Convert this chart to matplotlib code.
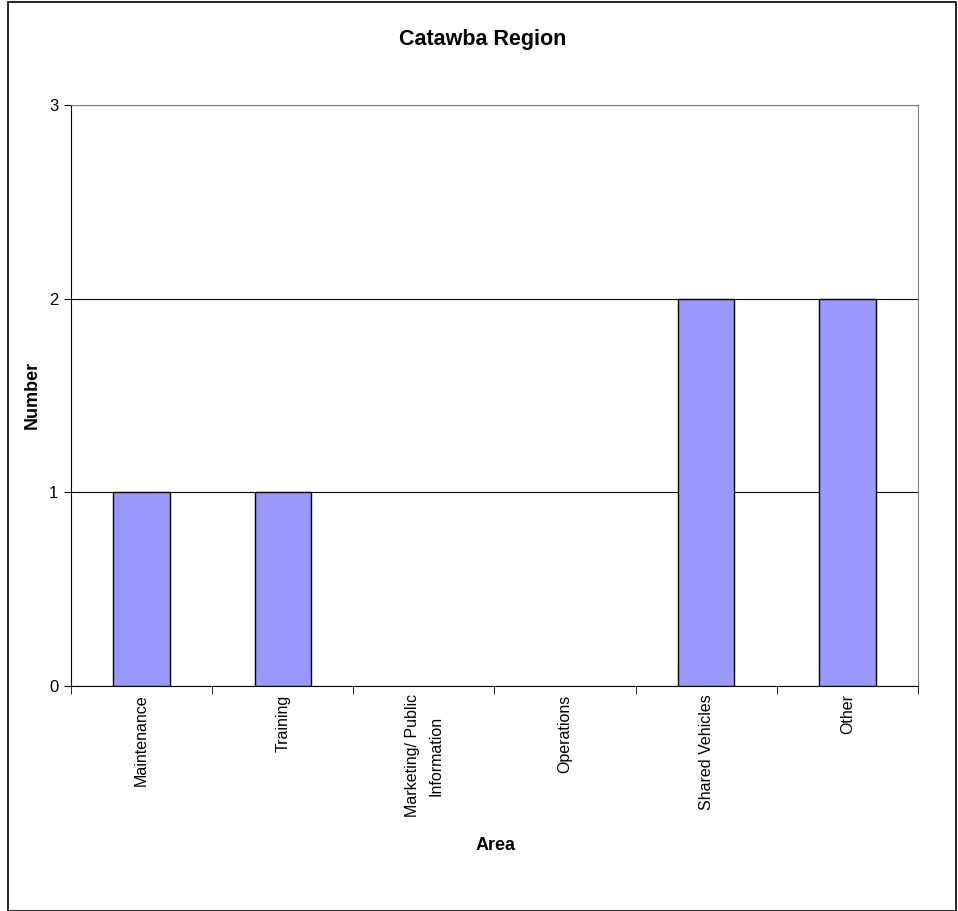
import matplotlib.pyplot as plt
from matplotlib.patches import Rectangle
import numpy as np

# Data
categories = ['Maintenance', 'Training', 'Marketing/ Public\nInformation',
              'Operations', 'Shared Vehicles', 'Other']
values = [1, 1, 0, 0, 2, 2]

plt.rcParams['font.family'] = ['Liberation Sans', 'DejaVu Sans']

W, H = 958, 911
fig = plt.figure(figsize=(W / 100, H / 100), dpi=100)

# outer chart border
fig.patches.append(Rectangle((8 / W, 0), (956 - 8) / W, (910 - 1) / H,
                             transform=fig.transFigure, fill=False,
                             edgecolor='black', linewidth=1.2))

left, right, top, bottom = 71, 918, 105, 686
ax = fig.add_axes([left / W, 1 - bottom / H, (right - left) / W, (bottom - top) / H])

x = np.arange(len(categories))
vals = np.array(values, dtype=float)
shown = vals > 0
ax.bar(x[shown], vals[shown], width=0.4, color='#9999FF', edgecolor='black',
       linewidth=1, zorder=3)

ax.set_xlim(-0.5, len(categories) - 0.5)
ax.set_ylim(0, 3)
ax.set_yticks([0, 1, 2, 3])
ax.yaxis.grid(True, color='black', linewidth=0.8, zorder=0)

ax.set_xticks(x)
ax.set_xticklabels(categories, rotation=90, fontsize=11.5, va='top', ha='center',
                   multialignment='center', linespacing=1.7)
ax.set_xticks(np.arange(-0.5, len(categories)), minor=True)
ax.tick_params(axis='x', which='major', length=0, pad=6)
ax.tick_params(axis='x', which='minor', length=6, direction='out')
ax.tick_params(axis='y', length=5, labelsize=12, pad=4)

for s in ['top', 'right']:
    ax.spines[s].set_color('#808080')
for s in ['left', 'bottom']:
    ax.spines[s].set_color('black')

fig.text(32 / W, 1 - 395 / H, 'Number', fontsize=13, fontweight='bold',
         rotation=90, ha='center', va='center')
fig.text(496 / W, 1 - 845 / H, 'Area', fontsize=13, fontweight='bold',
         ha='center', va='center')
fig.text(483 / W, 1 - 40 / H, 'Catawba Region', fontsize=15.5, fontweight='bold',
         ha='center', va='center')

fig.savefig('out.png', dpi=100)
